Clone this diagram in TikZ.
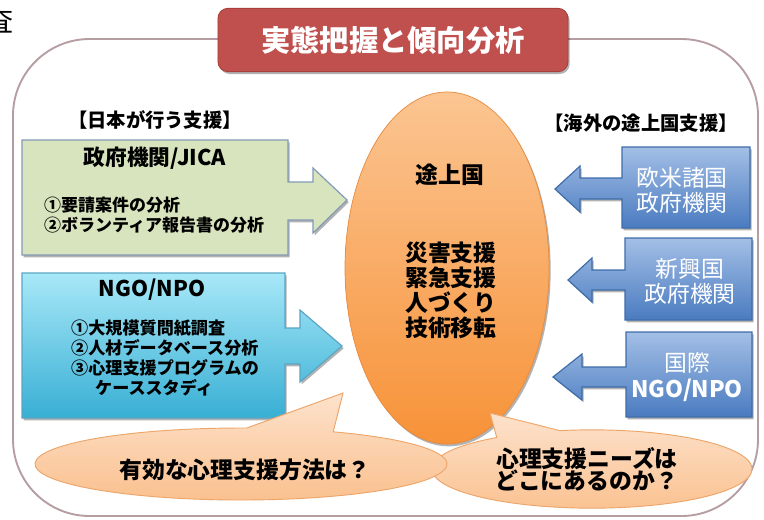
\documentclass[tikz,border=0pt]{standalone}
\usepackage{fontspec}
\setmainfont{Noto Sans CJK JP}
\usetikzlibrary{shapes.geometric,shapes.callouts,shadows}

\definecolor{frameLine}{HTML}{B59DA2}
\definecolor{titleRed}{HTML}{C0504D}
\definecolor{titleEdge}{HTML}{A9403D}
\definecolor{jicaFill}{HTML}{D7E4BD}
\definecolor{jicaEdge}{HTML}{8299B6}
\definecolor{ngoTop}{HTML}{A8E8F8}
\definecolor{ngoBottom}{HTML}{38AFD4}
\definecolor{ngoEdge}{HTML}{5AA5C4}
\definecolor{aidTop}{HTML}{A3BFE6}
\definecolor{aidBottom}{HTML}{4A7BC0}
\definecolor{aidEdge}{HTML}{3E6DAA}
\definecolor{eggTop}{HTML}{FBC592}
\definecolor{eggBottom}{HTML}{F79238}
\definecolor{eggEdge}{HTML}{E88A3C}
\definecolor{talkTop}{HTML}{FDE2CC}
\definecolor{talkBottom}{HTML}{FAC18F}
\definecolor{talkEdge}{HTML}{EDA66A}

\tikzset{
  softshadow/.style={drop shadow={shadow xshift=0.05cm, shadow yshift=-0.07cm, opacity=0.3, fill=black}},
  frameline/.style={draw=frameLine, line width=1.6pt, rounded corners=2.3cm},
  titlebox/.style={fill=titleRed, draw=titleEdge, line width=0.8pt, rounded corners=0.3cm, minimum width=10.5cm, minimum height=1.9cm, text=white, font=\bfseries\fontsize{25}{25}\selectfont, softshadow},
  jicabox/.style={fill=jicaFill, draw=jicaEdge, line width=1pt, softshadow},
  ngobox/.style={top color=ngoTop, bottom color=ngoBottom, draw=ngoEdge, line width=1pt, softshadow},
  aidbox/.style={top color=aidTop, bottom color=aidBottom, draw=aidEdge, line width=1pt, softshadow},
  egg/.style={ellipse, inner sep=0, minimum width=6.12cm, minimum height=10.56cm, top color=eggTop, bottom color=eggBottom, draw=eggEdge, line width=0.6pt, softshadow},
  talk/.style={ellipse callout, inner sep=0, callout pointer arc=25, top color=talkTop, bottom color=talkBottom, draw=talkEdge, line width=0.8pt},
  headfont/.style={inner sep=0, font=\bfseries\fontsize{16.5}{18}\selectfont},
  boxtitle/.style={inner sep=0, font=\bfseries\fontsize{18.5}{20}\selectfont},
  listfont/.style={inner sep=0, anchor=west, align=left, font=\bfseries\fontsize{14.5}{17}\selectfont},
  ngolist/.style={inner sep=0, anchor=west, align=left, font=\bfseries\fontsize{14.6}{17}\selectfont},
  eggfont/.style={inner sep=0, font=\bfseries\fontsize{19.5}{21.3}\selectfont},
  aidfont/.style={inner sep=0, align=center, text=white, font=\fontsize{19.5}{21.5}\selectfont},
  talkfont/.style={inner sep=0, align=center, font=\bfseries\fontsize{19.5}{18.7}\selectfont}
}

\begin{document}
\begin{tikzpicture}[x=0.03cm, y=-0.03cm]
\useasboundingbox (0,0) rectangle (764,519);
\fill[white] (0,0) rectangle (764,519); % page
\node[font=\fontsize{24}{24}\selectfont, inner sep=0] (cut) at (0,21) {査}; % cut off
\draw[frameline] (13,300) -- (13,39) -- (758,39) -- (758,516) -- (13,516) -- cycle; % frame
\node[titlebox] (title) at (393,40) {実態把握と傾向分析};

\draw[jicabox] (22,140) -- (288,140) -- (288,182) -- (313,182) -- (313,168) -- (347,200) -- (313,233) -- (313,220) -- (288,220) -- (288,255) -- (22,255) -- cycle; % JICA
\draw[ngobox] (22,273) -- (285,273) -- (285,328) -- (300,328) -- (300,310) -- (342,346) -- (300,382) -- (300,364) -- (285,364) -- (285,418) -- (22,418) -- cycle; % NGO
\draw[aidbox] (750,147) -- (622,147) -- (622,178) -- (580,178) -- (580,166) -- (555,189) -- (580,212) -- (580,199) -- (622,199) -- (622,228) -- (750,228) -- cycle; % west
\draw[aidbox] (752,238) -- (625,238) -- (625,270) -- (592,270) -- (592,258) -- (568,280) -- (592,302) -- (592,290) -- (625,290) -- (625,320) -- (752,320) -- cycle; % emerging
\draw[aidbox] (752,332) -- (626,332) -- (626,367) -- (582,367) -- (582,354) -- (553,377) -- (582,400) -- (582,387) -- (626,387) -- (626,417) -- (752,417) -- cycle; % intl

\node[egg] (country) at (447,268) {};
\node[talk, callout absolute pointer={(490,413)}, minimum width=9.6cm, minimum height=2.35cm] (need) at (592,469) {};
\node[talk, callout absolute pointer={(343,393)}, minimum width=12.36cm, minimum height=2.16cm] (method) at (241,464) {};

\node[headfont] (jpnhead) at (155,120) {【日本が行う支援】};
\node[headfont] (abroadhead) at (641,123) {【海外の途上国支援】};
\node[boxtitle] (jica) at (155,158) {政府機関/JICA};
\node[listfont] (jicalist) at (44,215) {①要請案件の分析\\②ボランティア報告書の分析};
\node[boxtitle] (ngo) at (152,290) {NGO/NPO};
\node[ngolist] (ngolist) at (71,358) {①大規模質問紙調査\\②人材データベース分析\\③心理支援プログラムの\\\hspace*{1.4em}ケーススタディ};

\node[eggfont] (dev) at (450,175) {途上国};
\node[eggfont, anchor=west, align=left] (devlist) at (405,290) {災害支援\\緊急支援\\人づくり\\技術移転};

\node[aidfont] (west) at (682,190) {欧米諸国\\政府機関};
\node[aidfont] (emerging) at (690,281) {新興国\\政府機関};
\node[aidfont] (intl) at (687,377) {国際\\\textbf{NGO/NPO}};

\node[talkfont] (methodtext) at (245,470) {有効な心理支援方法は？};
\node[talkfont] (needtext) at (587,469) {心理支援ニーズは\\どこにあるのか？};
\end{tikzpicture}
\end{document}
